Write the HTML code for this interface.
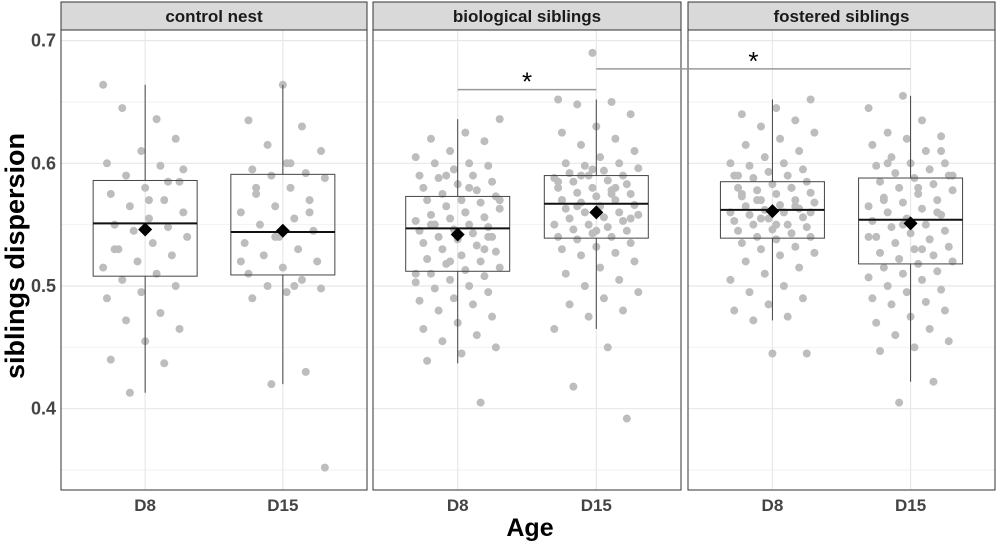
<!DOCTYPE html>
<html><head><meta charset="utf-8"><style>
body{margin:0;background:#fff;}
svg text{font-family:"Liberation Sans",Arial,sans-serif;}
</style></head><body>
<svg id="chart" width="1000" height="548" viewBox="0 0 1000 548" xmlns="http://www.w3.org/2000/svg">
<text x="24" y="256" transform="rotate(-90 24 256)" text-anchor="middle" font-size="27" font-weight="bold" fill="#000">siblings dispersion</text>
<text x="530" y="536" text-anchor="middle" font-size="25" font-weight="bold" fill="#000">Age</text>
</svg>
<script>
const panels=["control nest","biological siblings","fostered siblings"];
const ages=["D8","D15"];
const yTicks=[0.4,0.5,0.6,0.7];
const yMinor=[0.35,0.45,0.55,0.65];
// stats per group: [lowerWhisker,q1,median,q3,upperWhisker]
const boxStats=[[0.413,0.508,0.551,0.586,0.664],[0.420,0.509,0.544,0.591,0.664],
 [0.437,0.512,0.547,0.573,0.636],[0.465,0.539,0.567,0.590,0.652],
 [0.472,0.539,0.562,0.585,0.652],[0.422,0.518,0.554,0.588,0.655]];
const means=[0.546,0.545,0.542,0.560,0.561,0.551];
const pts0=[0.664,0.636,0.645,0.62,0.61,0.60,0.598,0.59,0.585,0.58,0.575,0.57,0.565,0.56,0.555,0.55,0.548,0.545,0.54,0.535,0.53,0.525,0.52,0.515,0.51,0.505,0.50,0.495,0.49,0.478,0.472,0.465,0.455,0.44,0.437,0.413,0.595,0.57,0.53,0.585];
const pts1=[0.664,0.635,0.63,0.615,0.61,0.60,0.595,0.592,0.59,0.588,0.58,0.575,0.57,0.565,0.56,0.555,0.55,0.545,0.54,0.535,0.53,0.525,0.52,0.515,0.51,0.505,0.50,0.498,0.495,0.49,0.43,0.42,0.352,0.6,0.58,0.56,0.54,0.52,0.5];
const pts2=[0.636,0.625,0.62,0.618,0.61,0.605,0.60,0.60,0.598,0.595,0.59,0.59,0.588,0.585,0.583,0.58,0.578,0.575,0.573,0.57,0.57,0.568,0.565,0.563,0.56,0.558,0.556,0.555,0.553,0.55,0.55,0.548,0.546,0.545,0.543,0.54,0.54,0.538,0.535,0.533,0.53,0.528,0.525,0.522,0.52,0.518,0.515,0.513,0.51,0.508,0.505,0.503,0.50,0.498,0.495,0.49,0.488,0.485,0.48,0.475,0.47,0.465,0.46,0.455,0.45,0.445,0.439,0.405,0.59,0.57,0.56,0.55,0.53,0.52,0.51,0.58,0.55,0.54];
const pts3=[0.69,0.652,0.65,0.648,0.64,0.63,0.625,0.62,0.615,0.61,0.605,0.60,0.60,0.598,0.596,0.594,0.592,0.59,0.59,0.588,0.586,0.585,0.583,0.58,0.58,0.578,0.576,0.575,0.573,0.57,0.57,0.568,0.566,0.565,0.563,0.56,0.56,0.558,0.556,0.555,0.553,0.55,0.55,0.548,0.546,0.545,0.543,0.54,0.54,0.538,0.535,0.532,0.53,0.527,0.525,0.52,0.515,0.51,0.505,0.50,0.495,0.49,0.485,0.48,0.475,0.465,0.45,0.418,0.392,0.595,0.585,0.575,0.565,0.555,0.545,0.57,0.58,0.59];
const pts4=[0.652,0.645,0.64,0.635,0.63,0.625,0.62,0.615,0.61,0.605,0.60,0.60,0.598,0.595,0.593,0.59,0.59,0.588,0.585,0.583,0.58,0.58,0.578,0.576,0.575,0.573,0.57,0.57,0.568,0.566,0.565,0.563,0.562,0.56,0.56,0.558,0.556,0.555,0.553,0.55,0.55,0.548,0.546,0.545,0.543,0.54,0.54,0.538,0.535,0.532,0.53,0.527,0.525,0.52,0.515,0.51,0.505,0.50,0.495,0.49,0.485,0.48,0.475,0.472,0.445,0.445,0.59,0.58,0.57,0.56,0.55,0.575,0.565,0.555];
const pts5=[0.655,0.645,0.635,0.625,0.622,0.62,0.615,0.61,0.605,0.60,0.60,0.598,0.595,0.592,0.59,0.588,0.585,0.583,0.58,0.578,0.575,0.572,0.57,0.568,0.565,0.563,0.56,0.558,0.555,0.553,0.55,0.548,0.545,0.543,0.54,0.538,0.535,0.532,0.53,0.527,0.525,0.522,0.52,0.518,0.515,0.512,0.51,0.507,0.505,0.50,0.497,0.495,0.49,0.487,0.485,0.48,0.475,0.47,0.465,0.46,0.455,0.45,0.447,0.422,0.405,0.59,0.58,0.57,0.56,0.55,0.54,0.53,0.6,0.61];
const points=[pts0,pts1,pts2,pts3,pts4,pts5];
const panelX=[[61,367],[373,681],[688,995]];
const plotTop=30,plotBot=490;
const y=v=>286-(v-0.5)*1227;
const svg=document.getElementById('chart');
const NS='http://www.w3.org/2000/svg';
function mk(t,a,p){const e=document.createElementNS(NS,t);for(const k in a)e.setAttribute(k,a[k]);(p||svg).appendChild(e);return e;}
yTicks.forEach(v=>{const t=mk('text',{x:56,y:y(v)+6,'text-anchor':'end','font-size':18,'font-weight':'bold',fill:'#444'});t.textContent=v.toFixed(1);

});
panels.forEach((name,p)=>{
 const x0=panelX[p][0],x1=panelX[p][1];const w=x1-x0;
 const g=mk('g',{});
 
 
 const xs=[x0+w*0.275,x0+w*0.725];
 yMinor.forEach(v=>mk('line',{x1:x0,x2:x1,y1:y(v),y2:y(v),stroke:'#f2f2f2','stroke-width':1},g));
 yTicks.forEach(v=>mk('line',{x1:x0,x2:x1,y1:y(v),y2:y(v),stroke:'#e8e8e8','stroke-width':1.2},g));
 xs.forEach(cx=>mk('line',{x1:cx,x2:cx,y1:plotTop,y2:plotBot,stroke:'#e8e8e8','stroke-width':1.2},g));
 const s=mk('rect',{x:x0,y:2,width:w,height:28,fill:'#d9d9d9',stroke:'#333','stroke-width':1},g);
 
 
 const st=mk('text',{x:(x0+x1)/2,y:22,'text-anchor':'middle','font-size':17,'font-weight':'bold',fill:'#1a1a1a'},g);st.textContent=name;
 ages.forEach((a,i)=>{
  const k=p*2+i,cx=xs[i],bs=boxStats[k];
  points[k].forEach((v,j)=>{const jt=(((j*37+k*11)%23)/11-1)*42;
   const c=mk('circle',{cx:cx+jt,cy:y(v),r:4,fill:'#bdbdbd'},g);
   
   });
  mk('line',{x1:cx,x2:cx,y1:y(bs[4]),y2:y(bs[3]),stroke:'#444','stroke-width':1},g);
  mk('line',{x1:cx,x2:cx,y1:y(bs[1]),y2:y(bs[0]),stroke:'#444','stroke-width':1},g);
  const b=mk('rect',{x:cx-52,y:y(bs[3]),width:104,height:y(bs[1])-y(bs[3]),fill:'none',stroke:'#444','stroke-width':1},g);
  
  
  mk('line',{x1:cx-52,x2:cx+52,y1:y(bs[2]),y2:y(bs[2]),stroke:'#111','stroke-width':2},g);
  const my=y(means[k]);
  const m=mk('path',{d:`M${cx} ${my-7}L${cx+7} ${my}L${cx} ${my+7}L${cx-7} ${my}Z`,fill:'#000'},g);
  
  
  const t=mk('text',{x:cx,y:511,'text-anchor':'middle','font-size':17,'font-weight':'bold',fill:'#444'});t.textContent=a;
  
  
 });
 mk('rect',{x:x0,y:plotTop,width:w,height:plotBot-plotTop,fill:'none',stroke:'#333','stroke-width':1},g);
});
// significance brackets
const sig=[[1,0,1,1,0.66],[1,1,2,1,0.677]];
sig.forEach(s=>{const xa=panelX[s[0]][0]+(panelX[s[0]][1]-panelX[s[0]][0])*(s[1]?0.725:0.275);
 const xb=panelX[s[2]][0]+(panelX[s[2]][1]-panelX[s[2]][0])*(s[3]?0.725:0.275);
 const l=mk('line',{x1:xa,x2:xb,y1:y(s[4]),y2:y(s[4]),stroke:'#999','stroke-width':1.5});
 
 
 const t=mk('text',{x:(xa+xb)/2,y:y(s[4])+1,'text-anchor':'middle','font-size':26,fill:'#000'});t.textContent='*';
 
 });
</script>
</body></html>
